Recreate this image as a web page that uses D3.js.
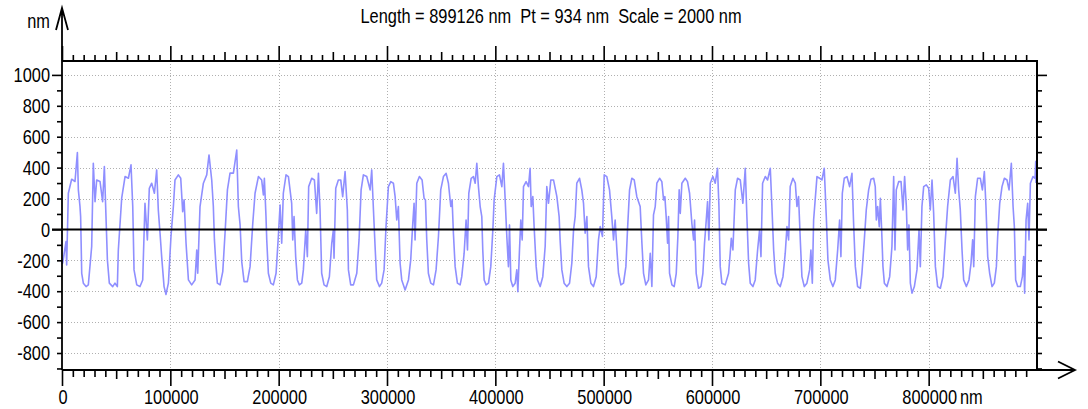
<!DOCTYPE html>
<html>
<head>
<meta charset="utf-8">
<script src="https://cdn.jsdelivr.net/npm/d3@7"></script>
<style>
  html, body { margin: 0; padding: 0; background: #fff; }
  svg { display: block; font-family: 'Liberation Sans', Arial, sans-serif; }
</style>
</head>
<body>
<svg id="chart" width="1088" height="409"></svg>
<script>
const title = 'Length = 899126 nm  Pt = 934 nm  Scale = 2000 nm'
const unit = 'nm'
const xLabels = [0, 100000, 200000, 300000, 400000, 500000, 600000, 700000, 800000]
const yLabels = [-800, -600, -400, -200, 0, 200, 400, 600, 800, 1000]

// profile: [position nm, height nm]
const profile = [
  [0,-210],[600,-219],[3700,-79],[4300,-230],[5850,234],[8900,325],[12000,310],[14200,497],[15100,256],[16600,148],
  [17200,83],[18200,-284],[19700,-348],[22200,-370],[24300,-359],[27400,-111],[28900,428],[30500,180],[32000,320],[35100,310],
  [37500,180],[39100,407],[40300,148],[41900,-197],[43700,-348],[46800,-370],[48900,-348],[51100,-370],[52000,-133],[55100,202],
  [58200,342],[61300,331],[63700,418],[65300,148],[66500,-262],[69000,-359],[72000,-370],[74500,-327],[76600,169],[78800,-68],
  [80600,266],[82800,299],[85300,234],[87400,385],[88900,126],[90500,-25],[92000,-176],[94200,-370],[96000,-421],[98200,-348],
  [100600,-46],[102800,148],[104300,320],[107400,353],[109600,331],[111400,115],[112700,191],[114500,-90],[116700,-327],[119700,-359],
  [122800,-327],[124400,-133],[125300,-284],[127400,148],[130500,299],[133600,353],[135700,482],[138200,320],[139700,148],[140700,-68],
  [142200,-241],[143400,-348],[145900,-359],[148400,-273],[150500,-25],[152700,256],[155100,364],[158200,364],[161300,513],[162800,148],
  [164400,29],[165900,-208],[168100,-338],[171100,-338],[173600,-241],[176100,40],[178200,234],[181300,342],
  [182800,331],[184300,320],[185900,223],[186800,331],[188300,83],[189000,-68],[190500,-284],[192700,-348],[195100,-359],[197600,-284],
  [199700,-46],[201300,158],[202800,-90],[204300,234],[206800,353],[209000,342],[210500,256],[212000,169],[213000,-68],[214200,83],
  [215700,-176],[217300,-327],[219100,-359],[221300,-348],[222800,-262],[225000,-3],[226500,-176],[227700,277],[230500,331],[233000,320],
  [235100,104],[236700,363],[238200,126],[239700,-284],[241900,-359],[244400,-370],[246800,-306],[249000,-90],[250500,-3],[251100,-187],
  [252700,266],[255100,320],[257300,320],[259100,212],[261300,374],[263400,126],[264400,-262],[266500,-359],[269000,-359],[272100,-284],
  [274200,-68],[276100,256],[278200,353],[281300,342],[284400,256],[285900,385],[287500,126],[289000,-111],[290500,-327],[293000,-370],
  [295100,-348],[297300,-262],[299100,18],[301300,277],[303500,309],[305900,299],[307500,212],[309000,61],[310500,148],[312100,-219],
  [313600,-327],[316700,-392],[319800,-327],[321900,-197],[323800,40],[325000,169],[325900,-68],[327500,299],[329900,342],[332400,320],
  [334200,202],[335500,191],[336700,-68],[338200,-284],[340400,-348],[342900,-359],[345300,-262],[347500,-46],[349600,256],[352100,342],
  [354600,363],[356700,299],[358900,148],[360100,191],[361300,-25],[362900,-241],[365000,-348],
  [367500,-359],[369000,-306],[371200,-154],[373000,61],[374300,-133],[375500,234],[377700,331],[379800,342],[381400,299],[382900,428],
  [384400,277],[386000,148],[387500,83],[388400,-133],[389700,-327],[391500,-359],[393700,-348],[395800,-241],[397700,-3],[398900,191],
  [401400,342],[403800,353],[406000,277],[407500,428],[409100,191],[410600,-46],[412100,-241],[413100,29],[414300,-327],[416100,-370],
  [418300,-348],[419800,-262],[420800,-403],[422300,-133],[423500,61],[424800,-68],[426000,277],[428400,309],[430600,277],[432100,396],
  [433100,148],[434600,212],[435800,18],[437700,-241],[438900,-327],[441400,-370],[443800,-306],[446000,-111],[447500,277],[449100,169],
  [451200,320],[453700,320],[456800,212],[458900,83],[459800,-68],[461400,-262],[463500,-348],[466000,-370],[468500,-348],[470600,-219],
  [472200,-3],[473700,83],[475200,299],[477700,331],[479800,256],[481400,169],[482900,-25],[484500,83],[486000,-241],[488200,-348],
  [490600,-370],[493100,-306],[495200,-68],[496800,18],[498900,-46],[500500,353],[502900,342],[505400,256],[507500,83],[509100,-68],
  [510600,61],[512200,-133],[513700,-284],[515900,-359],[518300,-348],[520500,-241],[522000,-3],[523900,256],[526000,331],[528200,320],
  [530600,212],[533700,148],[535300,-90],[536800,-284],[538900,-359],[541400,-327],[543000,-154],[544500,-370],[546000,94],[547600,148],
  [549100,299],[551600,331],
  [553700,309],[555300,191],[556500,212],[557700,83],[559000,-90],[559900,83],[560800,-284],[563000,-359],[565100,-370],[567000,-284],
  [568500,-46],[569700,256],[570700,104],[572200,299],[575300,331],[577400,309],[579300,234],[581400,40],[583000,-68],[583900,61],
  [585400,-284],[587600,-381],[589800,-370],[591600,-284],[593100,-90],[594700,61],[595900,180],[597100,-68],[598400,299],[600800,342],
  [603000,299],[605100,396],[606400,148],[607600,-241],[609100,-348],[612200,-359],[615300,-284],[616800,-154],[617800,-57],[619300,-133],
  [621500,256],[623600,331],[626100,320],[628500,169],[630700,396],[632200,83],[633800,-219],[635300,-348],[637800,-370],[639900,-327],
  [642100,-133],[643900,-3],[645200,-176],[646700,299],[649200,342],[651300,320],[653800,396],[655300,148],[656900,-133],[658400,-284],
  [660500,-348],[663000,-370],[665500,-306],[667600,-154],[669200,18],[670700,-68],[672200,277],[674700,331],[676900,299],[678400,148],
  [679900,212],[681500,-68],[683000,-306],[685200,-370],[687600,-348],[690100,-262],[691300,-133],[692600,-348],[693800,61],[696900,342],
  [699300,331],[701500,320],[703600,396],[705500,83],[707000,-197],[709200,-327],[711600,-370],[713800,-327],[716000,-133],[717800,61],
  [719000,-176],[720300,234],[722100,331],[724600,342],[727000,277],[729200,363],[730700,40],[732300,-241],[734400,-370],[736900,-381],
  [738400,-284],[740600,-68],[742400,126],[744600,256],[746700,324],[749200,331],[750700,277],[751700,61],[752900,148],[754400,18],
  [755400,202],[756600,-3],[757800,-241],[759100,-348],[761500,-370],[764000,-306],[766100,-111],[767700,342],[768900,-133],[770100,256],
  [772300,309],[774500,309],[776300,126],[777800,342],[779400,148],[780600,-133],[781800,29],[783100,-348],[784600,-413],[786800,-370],
  [789200,-262],[791100,-3],[792300,-241],[793800,148],[795400,277],[797800,288],[800000,266],[801500,126],[803100,320],[804600,104],
  [806200,-241],[808300,-370],[810800,-381],[813200,-306],[815400,-68],[817500,148],[820000,320],[822500,342],[824600,234],[826200,460],
  [827700,256],[829200,126],[830800,-133],[832300,-327],[834800,-370],[837200,-327],[839100,-219],[840600,-68],[841600,-241],[843100,212],
  [845200,331],[847700,331],[849600,256],[851400,374],[852900,148],[854500,-176],[856300,-284],[858500,-370],[860600,-348],[862500,-241],
  [863700,-46],[865600,169],[867700,277],[869900,331],[872300,320],[874200,256],[876300,428],[877900,148],[879100,18],[880300,-327],
  [882200,-370],[884600,-370],[886500,-306],[887700,-176],[888600,-413],[889900,61],[891400,169],[892600,-68],[893900,299],[896300,342],
  [898200,331],[898800,440],[899100,300]
]

const plotLeft = 62, plotRight = 1037, plotTop = 61, plotBottom = 370
const squeeze = 0.82

const x = d3.scaleLinear().domain([0, 900000]).range([plotLeft, plotRight])
const y = d3.scaleLinear().domain([-910, 1090]).range([plotBottom, plotTop])

const svg = d3.select('#chart')

// dotted grid
const grid = svg.append('g').attr('stroke', '#b0b0b0').attr('stroke-dasharray', '1,2')
grid.selectAll('.gx').data(xLabels.filter(d => d > 0)).join('line')
  .attr('x1', d => Math.round(x(d)) + 0.5).attr('x2', d => Math.round(x(d)) + 0.5)
  .attr('y1', plotTop).attr('y2', plotBottom)
grid.selectAll('.gy').data(yLabels.filter(d => d !== 0)).join('line')
  .attr('x1', plotLeft).attr('x2', plotRight)
  .attr('y1', d => Math.round(y(d)) + 0.5).attr('y2', d => Math.round(y(d)) + 0.5)

// the profile
svg.append('path')
  .datum(profile)
  .attr('fill', 'none')
  .attr('stroke', '#8f8fff')
  .attr('stroke-width', 1.6)
  .attr('stroke-linejoin', 'round')
  .attr('d', d3.line().x(d => x(d[0])).y(d => y(d[1])))

// zero line
svg.append('line')
  .attr('x1', plotLeft - 10).attr('x2', plotRight + 10)
  .attr('y1', y(0)).attr('y2', y(0))
  .attr('stroke', '#000').attr('stroke-width', 2)

// ticks
const xMinor = d3.range(10000, 900000, 10000).filter(d => d % 50000 !== 0)
const xMid = d3.range(50000, 900000, 100000)
const yAll = d3.range(-900, 1001, 100)
const yMinor = yAll.filter(d => d % 1000 !== 0)
const yMajor = yAll.filter(d => d % 1000 === 0)

function ticks(axis, values, size, transform) {
  svg.append('g')
    .attr('transform', transform)
    .call(axis.tickValues(values).tickSize(size).tickFormat(''))
    .call(g => g.select('.domain').remove())
    .call(g => g.selectAll('line').attr('stroke-width', 1.6))
}
ticks(d3.axisTop(x), xMinor, 6, `translate(0,${plotTop})`)
ticks(d3.axisTop(x), xMid, 9, `translate(0,${plotTop})`)
ticks(d3.axisTop(x), xLabels, 15, `translate(0,${plotTop})`)
ticks(d3.axisBottom(x), xMinor, 7, `translate(0,${plotBottom})`)
ticks(d3.axisBottom(x), xMid, 9, `translate(0,${plotBottom})`)
ticks(d3.axisBottom(x), xLabels, 16, `translate(0,${plotBottom})`)
ticks(d3.axisLeft(y), yMinor, 5, `translate(${plotLeft},0)`)
ticks(d3.axisLeft(y), yMajor, 10, `translate(${plotLeft},0)`)
ticks(d3.axisRight(y), yMinor, 5, `translate(${plotRight},0)`)
ticks(d3.axisRight(y), yMajor, 10, `translate(${plotRight},0)`)

// frame and arrows
const frame = svg.append('g').attr('fill', 'none').attr('stroke', '#000').attr('stroke-width', 2)
frame.append('path').attr('d', `M${plotLeft},${plotTop}H${plotRight}V${plotBottom}`)
frame.append('path').attr('d', `M${plotLeft},${plotBottom}V8M${plotLeft - 6},30L${plotLeft},8L${plotLeft + 6},30`)
  .attr('stroke-width', 1.8)
frame.append('path').attr('d', `M${plotLeft},${plotBottom}H1075M1058,361.5L1075,${plotBottom}L1058,378.5`)
  .attr('stroke-width', 1.8)

// labels
const text = svg.append('g').attr('font-size', 20).attr('fill', '#000')

text.selectAll('.yl').data(yLabels).join('text')
  .attr('transform', d => `translate(50,${y(d)}) scale(${squeeze},1)`)
  .attr('text-anchor', 'end')
  .attr('dy', '0.36em')
  .text(d => d)

const xl = text.selectAll('.xl').data(xLabels).join('text')
  .attr('transform', d => `translate(${x(d) + 1},404) scale(${squeeze},1)`)
  .attr('text-anchor', 'middle')
  .text(d => d)

const lastW = xl.filter((d, i) => i === xLabels.length - 1).node().getComputedTextLength() * squeeze
text.append('text')
  .attr('transform', `translate(${x(xLabels[xLabels.length - 1]) + 1 + lastW / 2 + 3},404) scale(${squeeze},1)`)
  .text(unit)

text.append('text')
  .attr('transform', `translate(50,28) scale(${squeeze},1)`)
  .attr('text-anchor', 'end')
  .text(unit)

text.append('text')
  .attr('transform', `translate(551,23) scale(${squeeze},1)`)
  .attr('text-anchor', 'middle')
  .style('white-space', 'pre')
  .text(title)
</script>
</body>
</html>
